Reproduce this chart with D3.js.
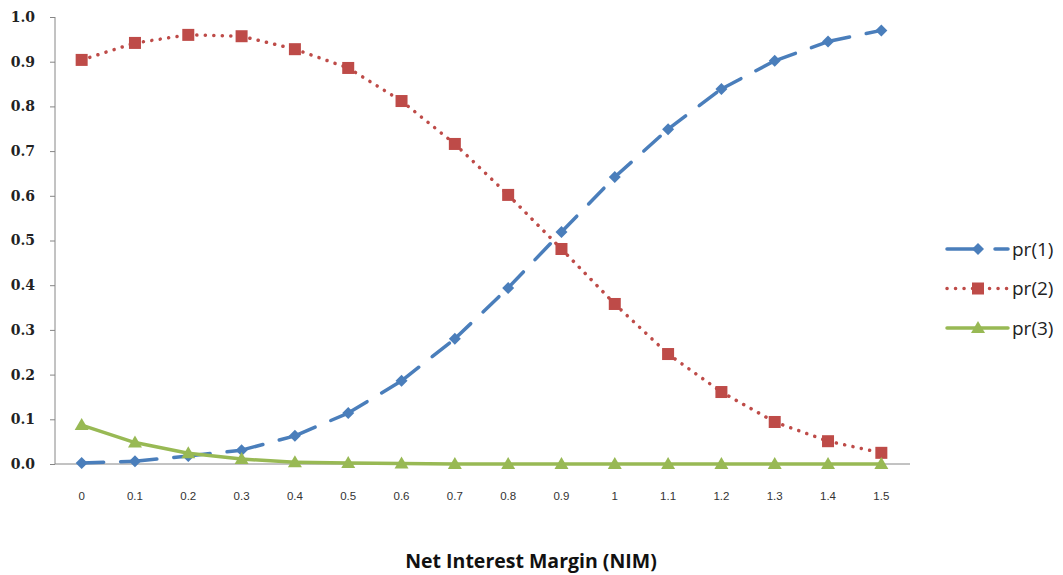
<!DOCTYPE html>
<html><head><meta charset="utf-8">
<script src="https://cdn.jsdelivr.net/npm/d3@7/dist/d3.min.js"></script>
<style>body{margin:0;background:#fff}svg{display:block}</style>
</head><body>
<svg id="c" width="1063" height="575"></svg>
<script>
const categories = ["0","0.1","0.2","0.3","0.4","0.5","0.6","0.7","0.8","0.9","1","1.1","1.2","1.3","1.4","1.5"];
const pr1 = [0.002,0.006,0.018,0.031,0.063,0.114,0.186,0.280,0.394,0.519,0.642,0.749,0.839,0.902,0.945,0.970];
const pr2 = [0.904,0.942,0.960,0.957,0.928,0.886,0.812,0.716,0.602,0.481,0.358,0.246,0.161,0.094,0.051,0.025];
const pr3 = [0.087,0.048,0.024,0.011,0.004,0.002,0.001,0,0,0,0,0,0,0,0,0];
const yTicks = [0,0.1,0.2,0.3,0.4,0.5,0.6,0.7,0.8,0.9,1.0];
const seriesNames = ["pr(1)","pr(2)","pr(3)"];
const xTitle = "Net Interest Margin (NIM)";

const svg = d3.select("#c");
const x = d3.scaleBand().domain(categories).range([55, 908]);
const y = d3.scaleLinear().domain([0, 1]).range([464, 17]);
const cx = d => x(d) + x.bandwidth()/2;

// y axis
const ya = svg.append("g").attr("transform","translate(55,0)")
  .call(d3.axisLeft(y).tickValues(yTicks).tickSize(5).tickPadding(15).tickFormat(d3.format(".1f")));
ya.select(".domain").attr("stroke","#868686").attr("d","M0,17V464");
ya.selectAll(".tick line").attr("stroke","#868686");
ya.selectAll("text").attr("font-family","'DejaVu Serif',serif").attr("font-weight","bold")
  .attr("font-size",14).attr("fill","#222");

// x axis
const xa = svg.append("g").attr("transform","translate(0,464)")
  .call(d3.axisBottom(x).tickSize(0).tickPadding(28));
xa.select(".domain").attr("stroke","#868686").attr("d","M55,0H910");
xa.selectAll("text").attr("font-family","'Liberation Sans',Arial,sans-serif")
  .attr("font-size",11.5).attr("fill","#333");

svg.append("text").attr("x",531).attr("y",568).attr("text-anchor","middle")
  .attr("font-family","'Open Sans',sans-serif").attr("font-weight","bold").attr("font-size",19.5)
  .attr("fill","#111").text(xTitle);

const series = [
  {name:seriesNames[0], vals:pr1, color:"#4a7ebb", dash:"22,17", sym:"diamond"},
  {name:seriesNames[1], vals:pr2, color:"#be4b48", dash:"0.1,8.4", sym:"square"},
  {name:seriesNames[2], vals:pr3, color:"#98b954", dash:null, sym:"triangle"}
];

function drawMarker(g, sym, color, px, py){
  if(sym==="diamond"){
    g.append("path").attr("d",`M${px},${py-6}L${px+6},${py}L${px},${py+6}L${px-6},${py}Z`).attr("fill",color);
  } else if(sym==="square"){
    g.append("rect").attr("x",px-6).attr("y",py-6).attr("width",12).attr("height",12).attr("fill",color);
  } else {
    g.append("path").attr("d",`M${px},${py-7}L${px+7},${py+5}L${px-7},${py+5}Z`).attr("fill",color);
  }
}

series.forEach(s=>{
  const g = svg.append("g");
  s.vals.forEach((v,i)=>{
    if(i===0) return;
    g.append("path")
      .attr("d", `M${cx(categories[i-1])},${y(s.vals[i-1])}L${cx(categories[i])},${y(v)}`)
      .attr("fill","none").attr("stroke",s.color).attr("stroke-width",3.5)
      .attr("stroke-linecap","round").attr("stroke-dasharray",s.dash);
  });
  s.vals.forEach((v,i)=>drawMarker(g, s.sym, s.color, cx(categories[i]), y(v)));
});

// legend
const lg = svg.append("g");
series.forEach((s,i)=>{
  const ly = 249 + i*39.5;
  lg.append("path").attr("d",`M947,${ly}H1008`).attr("stroke",s.color).attr("stroke-width",3.5)
    .attr("stroke-linecap","round").attr("stroke-dasharray", i===0 ? "31,17" : s.dash).attr("fill","none");
  drawMarker(lg, s.sym, s.color, 978, ly);
  lg.append("text").attr("x",1012).attr("y",ly+6.5).attr("font-family","'Open Sans',sans-serif")
    .attr("font-size",19).attr("fill","#222").text(s.name);
});
</script>
</body></html>
